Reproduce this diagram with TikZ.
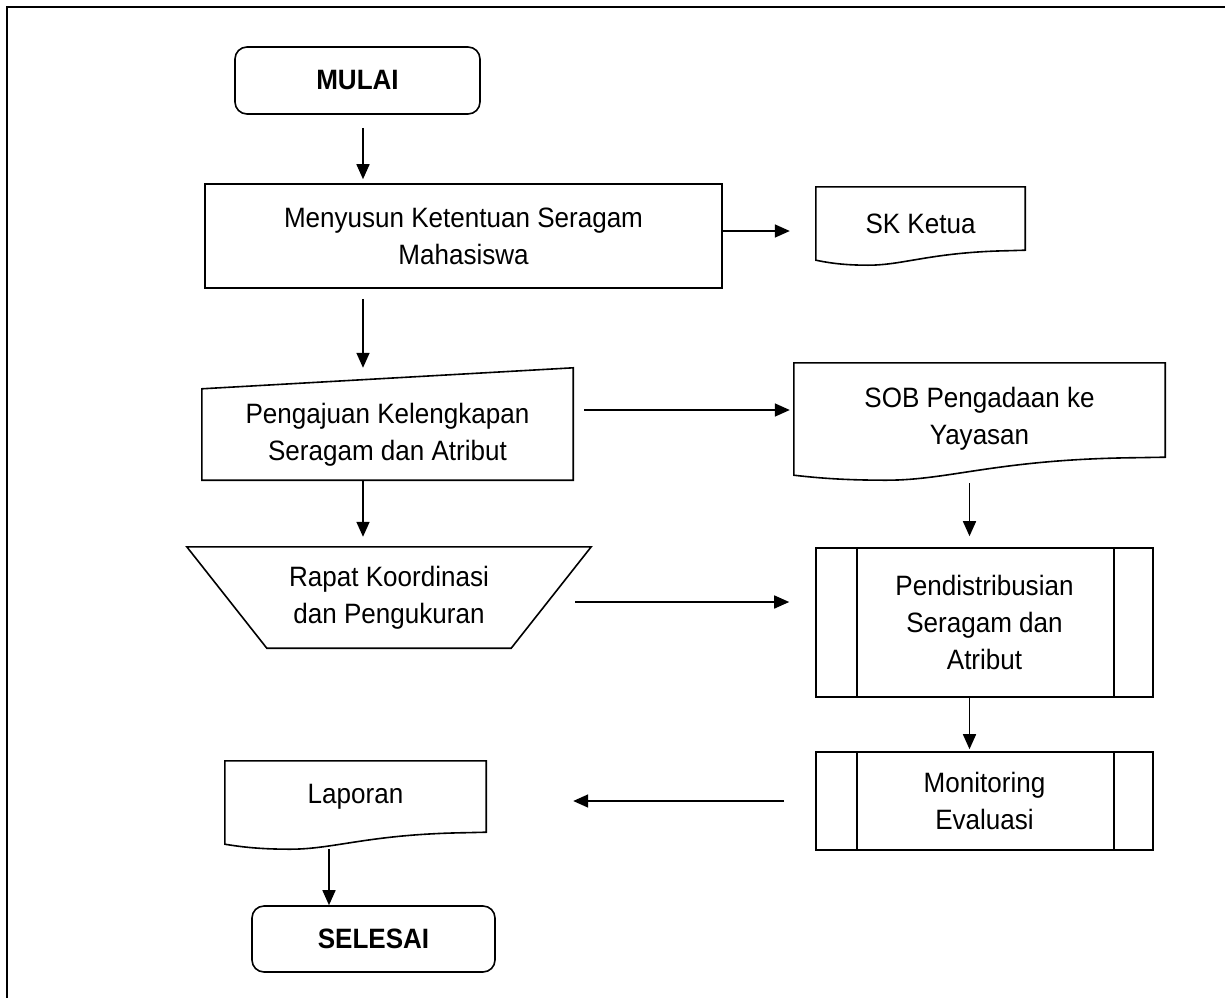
\documentclass[tikz,border=0pt]{standalone}
\usepackage{fontspec}
\setmainfont{Liberation Sans}[FakeStretch=0.93]
\usetikzlibrary{arrows.meta,calc}

% Document symbol: flat top, wavy bottom.
% #2 = height of the right bottom corner above the node's south side,
% #3 = depth of the left bottom corner below it.
\newcommand\docoutline[3]{%
  \draw[outline] let \p1=(#1.north west), \p2=(#1.south east), \n1={\x2-\x1} in
    (\x1,\y1) -- (\x2,\y1) -- (\x2,{\y2+#2})
    -- ({\x2-0.08*\n1},{\y2+#2-0.5pt})
    .. controls ({\x1+0.55*\n1},{\y2+#2-2pt}) and ({\x1+0.42*\n1},{\y2-#3-5pt}) .. ({\x1+0.25*\n1},{\y2-#3-5pt})
    .. controls ({\x1+0.14*\n1},{\y2-#3-5pt}) and ({\x1+0.07*\n1},{\y2-#3-3pt}) .. (\x1,{\y2-#3})
    -- cycle;}

\begin{document}
\begin{tikzpicture}[x=1pt,y=-1pt,
  font=\fontsize{28}{37}\selectfont,
  outline/.style={draw=black,line width=1.6pt},
  box/.style={outline,rectangle,inner sep=0pt,align=center},
  bare/.style={rectangle,inner sep=0pt,align=center},
  terminal/.style={box,rounded corners=12pt,font=\fontsize{28}{37}\selectfont\bfseries},
  arr/.style={line width=1.6pt,-{Triangle[length=15pt,width=13pt]}},
]
\useasboundingbox (0,0) rectangle (1225,998);
% page frame
\draw[line width=2pt] (1225,7) -- (7,7) -- (7,998);

% nodes
\node[terminal,minimum width=245pt,minimum height=67pt] (mulai) at (357.5,80.5) {MULAI};
\node[box,minimum width=517pt,minimum height=104pt] (menyusun) at (463.5,236) {Menyusun Ketentuan Seragam\\Mahasiswa};
\node[bare,minimum width=209pt,minimum height=73pt] (sk) at (920.5,223.5) {SK Ketua};
\node[bare,minimum width=371pt,minimum height=91pt] (pengajuan) at (387.5,434.5) {Pengajuan Kelengkapan\\Seragam dan Atribut};
\node[bare,minimum width=371pt,minimum height=112pt] (sob) at (979.5,419) {SOB Pengadaan ke\\Yayasan};
\node[bare,minimum width=404pt,minimum height=101pt] (rapat) at (389,597.5) {Rapat Koordinasi\\dan Pengukuran};
\node[box,minimum width=337pt,minimum height=149pt] (pend) at (984.5,622.5) {Pendistribusian\\Seragam dan\\Atribut};
\node[box,minimum width=337pt,minimum height=98pt] (mon) at (984.5,801) {Monitoring\\Evaluasi};
\node[bare,minimum width=261pt,minimum height=71pt] (laporan) at (355.5,796.5) {Laporan};
\node[terminal,minimum width=243pt,minimum height=66pt] (selesai) at (373.5,939) {SELESAI};

% shape outlines
\docoutline{sk}{10pt}{0pt}
\docoutline{sob}{18pt}{0pt}
\docoutline{laporan}{0pt}{12pt}
\draw[outline] (pengajuan.south west) -- (pengajuan.north west) -- ($(pengajuan.north east)+(0,-21)$) -- (pengajuan.south east) -- cycle;
\draw[outline] (rapat.north west) -- (rapat.north east) -- ($(rapat.south east)+(-80,0)$) -- ($(rapat.south west)+(80,0)$) -- cycle;
\foreach \p in {pend,mon}{
  \draw[outline] ([xshift=42pt]\p.north west) -- ([xshift=42pt]\p.south west);
  \draw[outline] ([xshift=-40pt]\p.north east) -- ([xshift=-40pt]\p.south east);
}

% connectors
\draw[arr,shorten <=13pt,shorten >=4pt] ([xshift=5.5pt]mulai.south) -- ([xshift=5.5pt]menyusun.north -| mulai.south);
\draw[arr,shorten >=26pt] ([yshift=5pt]menyusun.east) -- ([yshift=5pt]menyusun.east -| sk.west);
\draw[arr,shorten <=10pt,shorten >=21pt] ([xshift=5.5pt]menyusun.south -| mulai.south) -- ([xshift=5.5pt]pengajuan.north -| mulai.south);
\draw[arr,shorten <=11pt,shorten >=4pt] ([yshift=24.5pt]pengajuan.east) -- ([yshift=24.5pt]pengajuan.east -| sob.west);
\draw[arr,shorten >=10pt] ([xshift=5.5pt]pengajuan.south -| mulai.south) -- ([xshift=5.5pt]rapat.north -| mulai.south);
\draw[arr,shorten <=8pt,shorten >=11pt] ([xshift=-15pt]sob.south -| pend.north) -- ([xshift=-15pt]pend.north);
\draw[arr,shorten <=-16pt,shorten >=26pt] ([yshift=-4.5pt]rapat.east) -- ([yshift=-4.5pt]rapat.east -| pend.west);
\draw[arr,shorten >=2pt] ([xshift=-15pt]pend.south) -- ([xshift=-15pt]mon.north);
\draw[arr,shorten <=31pt,shorten >=87pt] (mon.west) -- (mon.west -| laporan.east);
\draw[arr,shorten <=17pt] ([xshift=-44.5pt]laporan.south -| selesai.north) -- ([xshift=-44.5pt]selesai.north);
\end{tikzpicture}
\end{document}
